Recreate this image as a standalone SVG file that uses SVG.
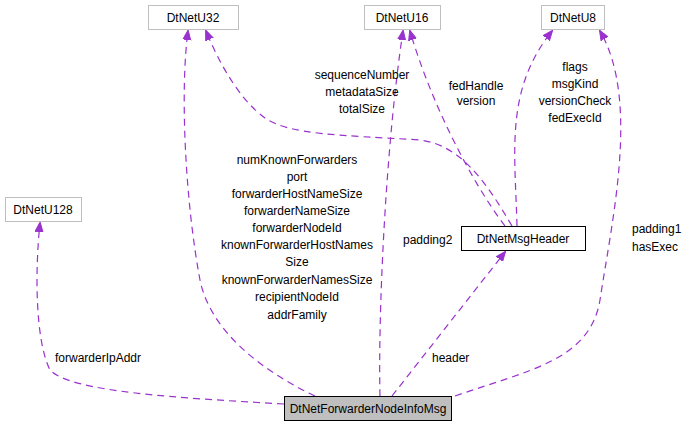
<svg xmlns="http://www.w3.org/2000/svg" width="692" height="427" viewBox="0 0 692 427">
<style>
.n rect{stroke:#bfbfbf;fill:#fff;stroke-width:1}
.n text,.l text{font-family:"Liberation Sans",Arial,sans-serif;font-size:12px;fill:#000}
.n text{text-anchor:middle}
.e path{fill:none;stroke:#9a32cd;stroke-dasharray:7,5;stroke-width:1.2;marker-end:url(#a)}
</style>
<defs><marker id="a" markerWidth="10" markerHeight="10" refX="9" refY="5" orient="auto" markerUnits="userSpaceOnUse"><path d="M0,1 L10,5 L0,9 z" fill="#9a32cd" stroke="#9a32cd"/></marker></defs>
<rect width="692" height="427" fill="#fff"/>
<g class="e">
<path d="M284,404 C180,398 70,392 50,370 C35,340 35,270 40,223"/>
<path d="M315,396 C260,370 210,330 200,280 C185,200 180,90 188,31"/>
<path d="M512,226 C485,180 460,145 420,140 C340,135 290,135 265,118 C240,100 220,65 206,31"/>
<path d="M380,396 C378,320 385,150 403,31"/>
<path d="M505,226 C470,180 430,100 410,31"/>
<path d="M517,226 C515,150 505,90 552,31"/>
<path d="M455,396 C530,370 590,360 600,300 C612,220 640,100 600,31"/>
<path d="M392,396 L505,252"/>
</g>
<g class="l">
<text x="362" y="79" text-anchor="middle">sequenceNumber</text>
<text x="362" y="96" text-anchor="middle">metadataSize</text>
<text x="362" y="113" text-anchor="middle">totalSize</text>
<text x="476" y="90" text-anchor="middle">fedHandle</text>
<text x="476" y="105" text-anchor="middle">version</text>
<text x="575" y="71" text-anchor="middle">flags</text>
<text x="575" y="88" text-anchor="middle">msgKind</text>
<text x="575" y="105" text-anchor="middle">versionCheck</text>
<text x="575" y="122" text-anchor="middle">fedExecId</text>
<g text-anchor="middle">
<text x="297" y="164">numKnownForwarders</text>
<text x="297" y="181">port</text>
<text x="297" y="198">forwarderHostNameSize</text>
<text x="297" y="215">forwarderNameSize</text>
<text x="297" y="232">forwarderNodeId</text>
<text x="297" y="249">knownForwarderHostNames</text>
<text x="297" y="266">Size</text>
<text x="297" y="284">knownForwarderNamesSize</text>
<text x="297" y="301">recipientNodeId</text>
<text x="297" y="319">addrFamily</text>
</g>
<text x="403" y="244">padding2</text>
<text x="632" y="233">padding1</text>
<text x="632" y="251">hasExec</text>
<text x="432" y="362">header</text>
<text x="55" y="362">forwarderIpAddr</text>
</g>
<g id="u32" class="n"><rect x="148.5" y="5.5" width="90" height="24"/><text x="193" y="22">DtNetU32</text></g>
<g id="u16" class="n"><rect x="364.5" y="5.5" width="76" height="24"/><text x="402" y="22">DtNetU16</text></g>
<g id="u8" class="n"><rect x="541.5" y="5.5" width="63" height="24"/><text x="573" y="22">DtNetU8</text></g>
<g id="u128" class="n"><rect x="5.5" y="197.5" width="76" height="24"/><text x="43" y="214">DtNetU128</text></g>
<g id="hdr" class="n"><rect x="461.5" y="226.5" width="124" height="24" style="stroke:#000"/><text x="523" y="243">DtNetMsgHeader</text></g>
<g id="main" class="n"><rect x="284.5" y="396.5" width="167" height="24" style="stroke:#000;fill:#bfbfbf"/><text x="368" y="413">DtNetForwarderNodeInfoMsg</text></g>
</svg>
